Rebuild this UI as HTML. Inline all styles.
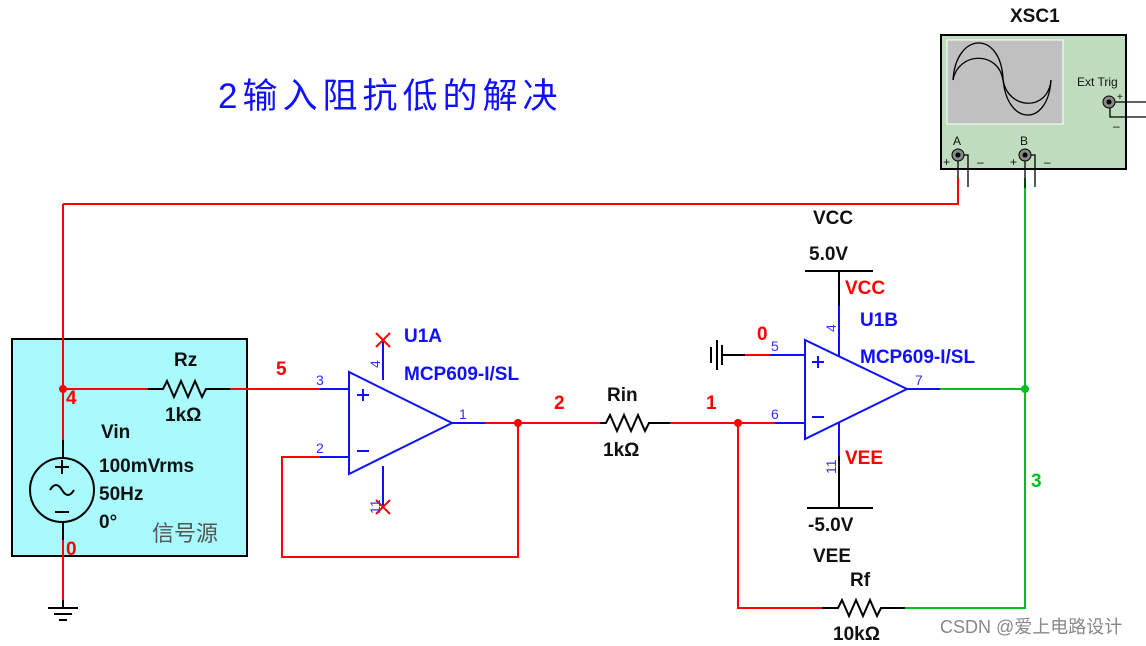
<!DOCTYPE html>
<html><head><meta charset="utf-8"><style>
body{margin:0;background:#fff}
svg{display:block}
text{font-family:"Liberation Sans","Noto Sans CJK SC",sans-serif}
.b{font-weight:bold;font-size:19px}
.p{font-size:14px;fill:#3030ff}
</style></head><body>
<svg width="1146" height="646" viewBox="0 0 1146 646">
<text x="218" y="108" font-size="35" letter-spacing="5" fill="#1010ff">2输入阻抗低的解决</text>
<rect x="12" y="339" width="235" height="217" fill="#a8fafc" stroke="#000" stroke-width="2"/>
<g stroke="#f00" stroke-width="2" fill="none">
<path d="M63 204H958V178"/>
<path d="M63 204V440"/>
<path d="M63 389H148M230 389H320"/>
<path d="M63 540V600"/>
<path d="M485 423H600M670 423H775"/>
<path d="M518 423V557H282V457H320"/>
<path d="M738 423V608H822"/>
<path d="M738 355H770"/>
</g>
<g fill="#f00"><circle cx="63" cy="389" r="4"/><circle cx="518" cy="423" r="4"/><circle cx="738" cy="423" r="4"/></g>
<g stroke="#000" stroke-width="2" fill="none">
<path d="M148 389H163l4-8 7 16 7-16 7 16 7-16 7 16 4-8H230"/>
<path d="M600 423H606l4-8 7 16 7-16 7 16 7-16 7 16 4-8H670"/>
<path d="M822 608H838l4-8 7 16 7-16 7 16 7-16 7 16 4-8H905"/>
<path d="M63 440V458M63 522V540"/>
<circle cx="62" cy="490" r="32"/>
<path d="M50 490q6-10 12 0t12 0"/>
<path d="M62 460v14M55 467h14M55 512h14"/>
<path d="M63 600V608M48 608h30M54 614h18M59 620h8"/>
<path d="M722 355H745M722 345v20M717 340v30M711 347v16"/>
<path d="M839 272V306M805 271H873"/>
<path d="M839 456V508M807 508H873"/>
</g>
<g stroke="#00c020" stroke-width="2" fill="none">
<path d="M940 389H1025V608H905"/>
<path d="M1025 389V178"/>
</g>
<circle cx="1025" cy="389" r="4" fill="#00c020"/>
<g stroke="#1010ff" stroke-width="2" fill="none">
<path d="M349 372V474L452 423Z"/>
<path d="M320 389H349M320 457H349M452 423H485M383 340V380M383 466V507"/>
<path d="M357 395h12M363 389v12M357 451h12"/>
<path d="M805 340V439L907 389Z"/>
<path d="M770 355H805M775 423H805M907 389H940M839 306V356M839 423V456"/>
<path d="M812 362h12M818 356v12M812 417h12"/>
</g>
<g stroke="#f00" stroke-width="2"><path d="M376 333l14 14M390 333l-14 14M376 500l14 14M390 500l-14 14"/></g>
<g class="p"><text x="316" y="385">3</text><text x="316" y="453">2</text><text x="459" y="419">1</text>
<text transform="translate(380,368) rotate(-90)">4</text><text transform="translate(380,514) rotate(-90)">11</text>
<text x="771" y="351">5</text><text x="771" y="419">6</text><text x="915" y="385">7</text>
<text transform="translate(836,332) rotate(-90)">4</text><text transform="translate(836,474) rotate(-90)">11</text></g>
<g class="b" fill="#1010ff"><text x="404" y="342">U1A</text><text x="404" y="380">MCP609-I/SL</text>
<text x="860" y="326">U1B</text><text x="860" y="363">MCP609-I/SL</text></g>
<g class="b" fill="#f00"><text x="276" y="375">5</text><text x="66" y="404">4</text><text x="66" y="555">0</text>
<text x="554" y="409">2</text><text x="706" y="409">1</text><text x="757" y="340">0</text>
<text x="845" y="294">VCC</text><text x="845" y="464">VEE</text></g>
<text class="b" x="1031" y="487" fill="#00c020">3</text>
<g class="b" fill="#111"><text x="174" y="366">Rz</text><text x="165" y="421">1kΩ</text>
<text x="101" y="438">Vin</text><text x="99" y="472">100mVrms</text><text x="99" y="500">50Hz</text><text x="99" y="528">0°</text>
<text x="607" y="401">Rin</text><text x="603" y="456">1kΩ</text>
<text x="813" y="224">VCC</text><text x="809" y="260">5.0V</text>
<text x="808" y="531">-5.0V</text><text x="813" y="562">VEE</text>
<text x="850" y="586">Rf</text><text x="833" y="640">10kΩ</text></g>
<text x="152" y="541" font-size="22" fill="#555">信号源</text>
<text x="1010" y="22" font-family="Liberation Mono" font-weight="bold" font-size="19" fill="#111">XSC1</text>
<rect x="941" y="35" width="185" height="134" fill="#bfdcbf" stroke="#000" stroke-width="2"/>
<rect x="947" y="40" width="116" height="84" fill="#c0c0c0" stroke="#fff" stroke-width="1"/>
<g stroke="#000" stroke-width="1.3" fill="none">
<path d="M953 80C956 32 1000 30 1003 78S1048 128 1051 80"/>
<path d="M953 80C958 52 998 50 1003 80S1048 112 1051 80"/>
<path d="M958 155h10v32M1025 155h10v32M1110 102h36M1110 102v15h36"/>
<path d="M958 160v28M1025 160v28"/>
</g>
<g fill="#888" stroke="#000"><circle cx="958" cy="155" r="6"/><circle cx="1025" cy="155" r="6"/><circle cx="1109" cy="102" r="6"/></g>
<g fill="#000"><circle cx="958" cy="155" r="2.5"/><circle cx="1025" cy="155" r="2.5"/><circle cx="1109" cy="102" r="2.5"/></g>
<g font-size="12" fill="#111"><text x="953" y="145">A</text><text x="1020" y="145">B</text><text x="1077" y="86">Ext Trig</text>
<text x="943" y="166">+</text><text x="977" y="166">–</text><text x="1010" y="166">+</text><text x="1044" y="166">–</text><text x="1117" y="100" font-size="10">+</text><text x="1113" y="130">–</text></g>
<path d="M958 178v10" stroke="#f00" stroke-width="2"/>
<text x="940" y="633" font-size="18" fill="#888">CSDN @爱上电路设计</text>
</svg>
</body></html>
